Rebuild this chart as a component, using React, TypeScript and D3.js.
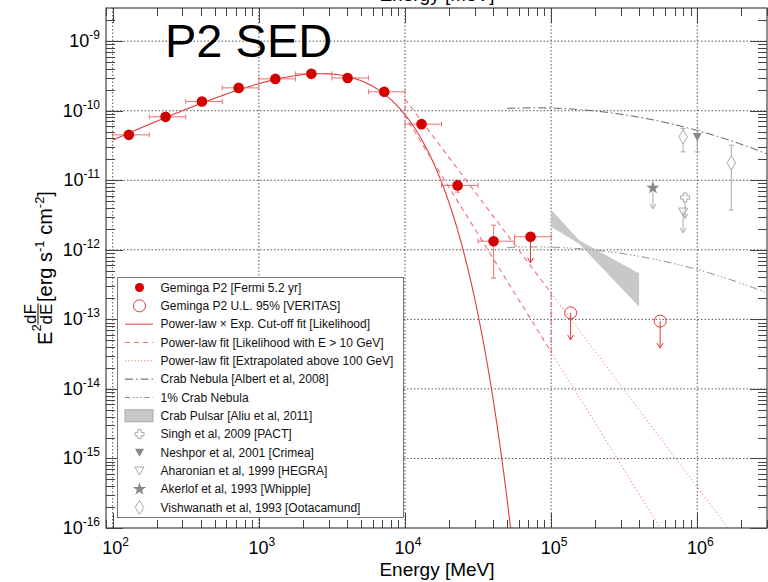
import React from 'react';
import * as d3 from 'd3';

const W = 768;
const H = 582;
const PX0 = 106, PX1 = 767, PY0 = 8, PY1 = 528;

// ---- data ----
const xDomain = [90, 3e6];
const yDomain = [1e-16, 3e-9];
const xTickExps = [2, 3, 4, 5, 6];
const yTickExps = [-9, -10, -11, -12, -13, -14, -15, -16];

// Fermi Geminga P2 points
const fermiE = [129, 230, 408, 728, 1297, 2287, 4048, 7213, 12980, 22900, 40400];
const fermiF = [4.5e-11, 8.17e-11, 1.36e-10, 2.13e-10, 2.87e-10, 3.39e-10, 2.96e-10, 1.87e-10, 6.41e-11, 8.44e-12, 1.33e-12];
const fermiElo = [100, 178, 316, 562, 1000, 1778, 3162, 5623, 10000, 17783, 31623];
const fermiEhi = [178, 316, 562, 1000, 1778, 3162, 5623, 10000, 17783, 31623, 56234];
const fermiFlo = [4.3e-11, 7.9e-11, 1.32e-10, 2.08e-10, 2.81e-10, 3.3e-10, 2.86e-10, 1.78e-10, 5.9e-11, 6.75e-12, 3.92e-13];
const fermiFhi = [4.7e-11, 8.45e-11, 1.4e-10, 2.18e-10, 2.93e-10, 3.48e-10, 3.06e-10, 1.96e-10, 6.9e-11, 1.0e-11, 2.26e-12];
// Fermi upper limit
const fermiUlE = [72300];
const fermiUlF = [1.54e-12];
const fermiUlElo = [56234];
const fermiUlEhi = [100000];
// VERITAS upper limits
const veritasE = [1.36e5, 5.57e5];
const veritasF = [1.24e-13, 9.44e-14];

// Power-law x exp cutoff fit
const cutK = [3.494e-10];
const cutE0 = [1000];
const cutIndex = [1.05];
const cutEc = [2802];
// Power-law fit E>10 GeV (bounds) and extrapolation
const plE = [1e4, 1e5];
const plUpperF = [1.47e-10, 2.39e-13];
const plLowerF = [8.35e-11, 3.39e-14];
const plExtraEmax = [3e6];
// Crab nebula log-parabola (Albert et al 2008)
const crabF0 = [8.9e-11];
const crabE0 = [3e5];
const crabAlpha = [2.31];
const crabBeta = [0.26];
const crabErange = [5e4, 3e6];
// Crab pulsar bowtie (Aliu et al 2011)
const pulsarUpperE = [1e5, 1.563e5, 4e5];
const pulsarUpperF = [3.77e-12, 1.356e-12, 4.58e-13];
const pulsarLowerE = [1e5, 1.563e5, 4e5];
const pulsarLowerF = [2.14e-12, 1.208e-12, 1.52e-13];
// Other experiments
const singhE = [8.26e5];
const singhF = [5.66e-12];
const neshporE = [1.0e6];
const neshporF = [4.2e-11];
const neshporFlo = [2.56e-11];
const neshporFhi = [5.26e-11];
const aharonianE = [8.0e5];
const aharonianF = [3.51e-12];
const akerlofE = [4.97e5];
const akerlofF = [7.78e-12];
const vishE = [8.0e5, 1.71e6];
const vishF = [4.2e-11, 1.78e-11];
const vishFlo = [2.56e-11, 3.72e-12];
const vishFhi = [5.56e-11, 3.2e-11];

const legendLabels = [
  'Geminga P2 [Fermi 5.2 yr]',
  'Geminga P2 U.L. 95% [VERITAS]',
  'Power-law \u00d7 Exp. Cut-off fit [Likelihood]',
  'Power-law fit [Likelihood with E > 10 GeV]',
  'Power-law fit [Extrapolated above 100 GeV]',
  'Crab Nebula [Albert et al, 2008]',
  '1% Crab Nebula',
  'Crab Pulsar [Aliu et al, 2011]',
  'Singh et al, 2009 [PACT]',
  'Neshpor et al, 2001  [Crimea]',
  'Aharonian et al, 1999 [HEGRA]',
  'Akerlof et al, 1993 [Whipple]',
  'Vishwanath et al, 1993 [Ootacamund]',
];

// ---- styles ----
const RED = '#d40000';
const RED_LINE = '#e03a3a';
const RED_LIGHT = '#ee7070';
const GRAY_DARK = '#555';
const GRAY_MID = '#888';
const GRAY_LIGHT = '#aaa';
const FONT = '"Liberation Sans", Arial, Helvetica, sans-serif';

const x = d3.scaleLog().domain(xDomain).range([PX0, PX1]);
const y = d3.scaleLog().domain(yDomain).range([PY1, PY0]);

function logSpace(a: number, b: number, n: number) {
  const la = Math.log10(a), lb = Math.log10(b);
  return d3.range(n).map((i) => Math.pow(10, la + ((lb - la) * i) / (n - 1)));
}

const line = d3
  .line<[number, number]>()
  .x((d) => x(d[0]))
  .y((d) => y(d[1]));

const triDown = (cx: number, cy: number, s: number) =>
  `M${cx - s},${cy - s * 0.85}L${cx + s},${cy - s * 0.85}L${cx},${cy + s * 0.95}Z`;
const diamond = (cx: number, cy: number) =>
  `M${cx},${cy - 7}L${cx + 4.3},${cy}L${cx},${cy + 7}L${cx - 4.3},${cy}Z`;
const plus = (cx: number, cy: number) => {
  const a = 1.7, b = 4.5;
  return `M${cx - a},${cy - b}H${cx + a}V${cy - a}H${cx + b}V${cy + a}H${cx + a}V${cy + b}H${cx - a}V${cy + a}H${cx - b}V${cy - a}H${cx - a}Z`;
};
const starPath = d3.symbol().type(d3.symbolStar).size(55)() as string;

function Arrow({ cx, cy, len, color }: { cx: number; cy: number; len: number; color: string }) {
  return (
    <g stroke={color} fill="none" strokeWidth={1}>
      <line x1={cx} y1={cy} x2={cx} y2={cy + len} />
      <polyline points={`${cx - 3},${cy + len - 5} ${cx},${cy + len} ${cx + 3},${cy + len - 5}`} />
    </g>
  );
}

export default function App() {
  // model curves
  const cutPts = logSpace(100, 1e5, 300).map(
    (E) => [E, cutK[0] * Math.pow(E / cutE0[0], 2 - cutIndex[0]) * Math.exp(-E / cutEc[0])] as [number, number]
  );
  const crabPts = logSpace(crabErange[0], crabErange[1], 200).map((E) => {
    const t = Math.log10(E / crabE0[0]);
    return [E, crabF0[0] * Math.pow(10, (2 - crabAlpha[0]) * t - crabBeta[0] * t * t)] as [number, number];
  });
  const crab1Pts = crabPts.map((d) => [d[0], d[1] * 0.01] as [number, number]);

  // power-law slopes for extrapolation
  const slope = (F: number[]) => Math.log10(F[1] / F[0]) / Math.log10(plE[1] / plE[0]);
  const extra = (F: number[]) => {
    const s = slope(F);
    return [
      [plE[1], F[1]],
      [plExtraEmax[0], F[1] * Math.pow(plExtraEmax[0] / plE[1], s)],
    ] as [number, number][];
  };

  const bowtie: [number, number][] = [
    ...pulsarUpperE.map((E, i) => [E, pulsarUpperF[i]] as [number, number]),
    ...pulsarLowerE.map((E, i) => [E, pulsarLowerF[i]] as [number, number]).reverse(),
  ];

  const minorX: number[] = [];
  for (let e = 1; e <= 6; e++) for (let m = 1; m <= 9; m++) {
    const v = m * Math.pow(10, e);
    if (v >= xDomain[0] && v <= xDomain[1]) minorX.push(v);
  }
  const minorY: number[] = [];
  for (let e = -17; e <= -9; e++) for (let m = 1; m <= 9; m++) {
    const v = m * Math.pow(10, e);
    if (v >= yDomain[0] * 0.999 && v <= yDomain[1]) minorY.push(v);
  }
  const isMajor = (v: number) => Math.abs(Math.log10(v) - Math.round(Math.log10(v))) < 1e-6;

  const legX0 = 117.5, legY0 = 277.5, legW = 286, legH = 240;
  const rowY = (i: number) => 287.5 + i * 18.33;
  const symX = 139.5;

  return (
    <svg width={W} height={H} style={{ position: 'absolute', left: 0, top: 0, background: '#fff' }} fontFamily={FONT}>
      <defs>
        <clipPath id="plot">
          <rect x={PX0} y={PY0} width={PX1 - PX0} height={PY1 - PY0} />
        </clipPath>
      </defs>
      <rect x={0} y={0} width={W} height={H} fill="#fff" />

      {/* clipped top title (partly outside the page as in the reference) */}
      <text x={437} y={1} textAnchor="middle" fontSize={19} fill="#000">Energy [MeV]</text>

      {/* grid */}
      <g stroke="#555" strokeWidth={1} strokeDasharray="1.5,2">
        {xTickExps.map((e) => (
          <line key={'gx' + e} x1={x(Math.pow(10, e))} x2={x(Math.pow(10, e))} y1={PY0} y2={PY1} />
        ))}
        {yTickExps.filter((e) => e > -16).map((e) => (
          <line key={'gy' + e} x1={PX0} x2={PX1} y1={y(Math.pow(10, e))} y2={y(Math.pow(10, e))} />
        ))}
      </g>

      {/* ticks */}
      <g stroke="#444" strokeWidth={1}>
        {minorX.map((v, i) => {
          const len = isMajor(v) ? 15 : 8;
          const xx = Math.round(x(v)) + 0.5;
          return (
            <g key={'tx' + i}>
              <line x1={xx} x2={xx} y1={PY1} y2={PY1 - len} />
              <line x1={xx} x2={xx} y1={PY0} y2={PY0 + len} />
            </g>
          );
        })}
        {minorY.map((v, i) => {
          const len = isMajor(v) ? 17 : 9;
          const yy = Math.round(y(v)) + 0.5;
          return (
            <g key={'ty' + i}>
              <line x1={PX0} x2={PX0 + len} y1={yy} y2={yy} />
              <line x1={PX1} x2={PX1 - len} y1={yy} y2={yy} />
            </g>
          );
        })}
      </g>

      {/* plot content */}
      <g clipPath="url(#plot)">
        {/* Crab pulsar bowtie */}
        <path d={line(bowtie) + 'Z'} fill="#c8c8c8" stroke="none" />
        {/* Crab nebula */}
        <path d={line(crabPts) as string} fill="none" stroke={GRAY_DARK} strokeWidth={1} strokeDasharray="8,3,1.5,3" />
        <path d={line(crab1Pts) as string} fill="none" stroke={GRAY_MID} strokeWidth={1} strokeDasharray="8,3,1.5,2,1.5,2,1.5,3" />

        {/* Cut-off fit */}
        <path d={line(cutPts) as string} fill="none" stroke={RED_LINE} strokeWidth={1.1} />

        {/* PL fit bowtie (dashed) */}
        <path
          d={line([
            [plE[0], plUpperF[0]],
            [plE[1], plUpperF[1]],
            [plE[1], plLowerF[1]],
            [plE[0], plLowerF[0]],
          ]) + 'Z'}
          fill="none"
          stroke={RED_LIGHT}
          strokeWidth={1.1}
          strokeDasharray="5,4"
        />
        <path d={line(extra(plUpperF)) as string} fill="none" stroke={RED_LIGHT} strokeWidth={1} strokeDasharray="1.2,2.5" />
        <path d={line(extra(plLowerF)) as string} fill="none" stroke={RED_LIGHT} strokeWidth={1} strokeDasharray="1.2,2.5" />

        {/* Fermi error bars */}
        <g stroke={RED_LIGHT} strokeWidth={1}>
          {fermiE.map((E, i) => (
            <g key={'fe' + i}>
              <line x1={x(fermiElo[i])} x2={x(fermiEhi[i])} y1={y(fermiF[i])} y2={y(fermiF[i])} />
              <line x1={x(fermiElo[i])} x2={x(fermiElo[i])} y1={y(fermiF[i]) - 2.5} y2={y(fermiF[i]) + 2.5} />
              <line x1={x(fermiEhi[i])} x2={x(fermiEhi[i])} y1={y(fermiF[i]) - 2.5} y2={y(fermiF[i]) + 2.5} />
              <line x1={x(E)} x2={x(E)} y1={y(fermiFlo[i])} y2={y(fermiFhi[i])} />
              <line x1={x(E) - 2.5} x2={x(E) + 2.5} y1={y(fermiFlo[i])} y2={y(fermiFlo[i])} />
              <line x1={x(E) - 2.5} x2={x(E) + 2.5} y1={y(fermiFhi[i])} y2={y(fermiFhi[i])} />
            </g>
          ))}
          {fermiUlE.map((E, i) => (
            <g key={'fu' + i}>
              <line x1={x(fermiUlElo[i])} x2={x(fermiUlEhi[i])} y1={y(fermiUlF[i])} y2={y(fermiUlF[i])} />
              <line x1={x(fermiUlElo[i])} x2={x(fermiUlElo[i])} y1={y(fermiUlF[i]) - 2.5} y2={y(fermiUlF[i]) + 2.5} />
              <line x1={x(fermiUlEhi[i])} x2={x(fermiUlEhi[i])} y1={y(fermiUlF[i]) - 2.5} y2={y(fermiUlF[i]) + 2.5} />
            </g>
          ))}
        </g>
        {fermiUlE.map((E, i) => (
          <Arrow key={'fa' + i} cx={x(E)} cy={y(fermiUlF[i])} len={26} color={RED_LINE} />
        ))}
        {fermiE.map((E, i) => (
          <circle key={'fp' + i} cx={x(E)} cy={y(fermiF[i])} r={5.3} fill={RED} />
        ))}
        {fermiUlE.map((E, i) => (
          <circle key={'fup' + i} cx={x(E)} cy={y(fermiUlF[i])} r={5.3} fill={RED} />
        ))}

        {/* VERITAS UL */}
        {veritasE.map((E, i) => (
          <g key={'v' + i}>
            <Arrow cx={x(E)} cy={y(veritasF[i])} len={27} color={RED_LINE} />
            <circle cx={x(E)} cy={y(veritasF[i])} r={6} fill="none" stroke={RED_LINE} strokeWidth={1} />
          </g>
        ))}

        {/* other experiments */}
        <g stroke={GRAY_LIGHT} strokeWidth={1}>
          {vishE.map((E, i) => (
            <line key={'ve' + i} x1={x(E)} x2={x(E)} y1={y(vishFlo[i])} y2={y(vishFhi[i])} />
          ))}
          {vishE.map((E, i) => (
            <g key={'vc' + i}>
              <line x1={x(E) - 2.5} x2={x(E) + 2.5} y1={y(vishFlo[i])} y2={y(vishFlo[i])} />
              <line x1={x(E) - 2.5} x2={x(E) + 2.5} y1={y(vishFhi[i])} y2={y(vishFhi[i])} />
            </g>
          ))}
          {neshporE.map((E, i) => (
            <g key={'ne' + i}>
              <line x1={x(E)} x2={x(E)} y1={y(neshporFlo[i])} y2={y(neshporFhi[i])} />
              <line x1={x(E) - 2.5} x2={x(E) + 2.5} y1={y(neshporFlo[i])} y2={y(neshporFlo[i])} />
              <line x1={x(E) - 2.5} x2={x(E) + 2.5} y1={y(neshporFhi[i])} y2={y(neshporFhi[i])} />
            </g>
          ))}
        </g>
        {akerlofE.map((E, i) => (
          <g key={'ak' + i}>
            <Arrow cx={x(E)} cy={y(akerlofF[i])} len={21} color={GRAY_LIGHT} />
            <path d={starPath} transform={`translate(${x(E)},${y(akerlofF[i])})`} fill={GRAY_MID} />
          </g>
        ))}
        {singhE.map((E, i) => (
          <g key={'si' + i}>
            <Arrow cx={x(E)} cy={y(singhF[i])} len={21} color={GRAY_LIGHT} />
            <path d={plus(x(E), y(singhF[i]))} fill="#fff" stroke={GRAY_LIGHT} />
          </g>
        ))}
        {aharonianE.map((E, i) => (
          <g key={'ah' + i}>
            <Arrow cx={x(E)} cy={y(aharonianF[i])} len={21} color={GRAY_LIGHT} />
            <path d={triDown(x(E), y(aharonianF[i]), 4.5)} fill="none" stroke={GRAY_LIGHT} />
          </g>
        ))}
        {neshporE.map((E, i) => (
          <path key={'np' + i} d={triDown(x(E), y(neshporF[i]), 4.5)} fill={GRAY_MID} />
        ))}
        {vishE.map((E, i) => (
          <path key={'vp' + i} d={diamond(x(E), y(vishF[i]))} fill="#fff" stroke={GRAY_LIGHT} />
        ))}
      </g>

      {/* frame */}
      <rect x={PX0} y={PY0} width={PX1 - PX0} height={PY1 - PY0} fill="none" stroke="#444" strokeWidth={1.2} />

      {/* title */}
      <text x={165} y={57} fontSize={47} fill="#000">P2 SED</text>

      {/* legend */}
      <rect x={legX0} y={legY0} width={legW} height={legH} fill="#fff" stroke="#777" strokeWidth={1} />
      <g fontSize={12} fill="#111">
        {legendLabels.map((t, i) => (
          <text key={'lt' + i} x={160.5} y={rowY(i) + 4.3}>{t}</text>
        ))}
      </g>
      <circle cx={symX} cy={rowY(0)} r={4.5} fill={RED} />
      <circle cx={symX} cy={rowY(1)} r={6} fill="none" stroke={RED_LINE} />
      <line x1={125} x2={153} y1={rowY(2)} y2={rowY(2)} stroke={RED_LINE} />
      <line x1={125} x2={153} y1={rowY(3)} y2={rowY(3)} stroke={RED_LIGHT} strokeWidth={1.2} strokeDasharray="5,4" />
      <line x1={125} x2={153} y1={rowY(4)} y2={rowY(4)} stroke={RED_LIGHT} strokeDasharray="1.2,2" />
      <line x1={125} x2={153} y1={rowY(5)} y2={rowY(5)} stroke={GRAY_DARK} strokeDasharray="8,3,1.5,3" />
      <line x1={125} x2={153} y1={rowY(6)} y2={rowY(6)} stroke={GRAY_MID} strokeDasharray="5,3,1.5,2,1.5,2,1.5,3" />
      <rect x={125} y={rowY(7) - 6} width={28} height={12} fill="#c8c8c8" stroke="#aaa" />
      <path d={plus(symX, rowY(8))} fill="#fff" stroke={GRAY_LIGHT} />
      <path d={triDown(symX, rowY(9), 4.5)} fill={GRAY_MID} />
      <path d={triDown(symX, rowY(10), 4.5)} fill="none" stroke={GRAY_LIGHT} />
      <path d={starPath} transform={`translate(${symX},${rowY(11)})`} fill={GRAY_MID} />
      <path d={diamond(symX, rowY(12))} fill="#fff" stroke={GRAY_LIGHT} />

      {/* tick labels */}
      <g fontSize={18} fill="#000">
        {xTickExps.map((e) => (
          <text key={'xl' + e} x={x(Math.pow(10, e)) + 3} y={554} textAnchor="middle">
            10<tspan dy={-8} fontSize={12}>{e}</tspan>
          </text>
        ))}
        {yTickExps.map((e) => (
          <text key={'yl' + e} x={100} y={y(Math.pow(10, e)) + 6} textAnchor="end">
            10<tspan dy={-8} fontSize={12}>{'-' + -e}</tspan>
          </text>
        ))}
      </g>

      {/* axis titles */}
      <text x={437} y={576} textAnchor="middle" fontSize={19} fill="#000">Energy [MeV]</text>
      <g transform="translate(51.5,345) rotate(-90)" fill="#000">
        <text x={0} y={0} fontSize={20}>E</text>
        <text x={13.5} y={-11} fontSize={13}>2</text>
        <text x={31} y={-15.5} fontSize={17} textAnchor="middle">dF</text>
        <line x1={20.5} x2={41.5} y1={-13.5} y2={-13.5} stroke="#000" strokeWidth={1} />
        <text x={31} y={0} fontSize={17} textAnchor="middle">dE</text>
        <text x={43} y={0} fontSize={20}>
          [erg s<tspan dy={-8} fontSize={13}>-1</tspan>
          <tspan dy={8}> cm</tspan>
          <tspan dy={-8} fontSize={13}>-2</tspan>
          <tspan dy={8}>]</tspan>
        </text>
      </g>
    </svg>
  );
}
